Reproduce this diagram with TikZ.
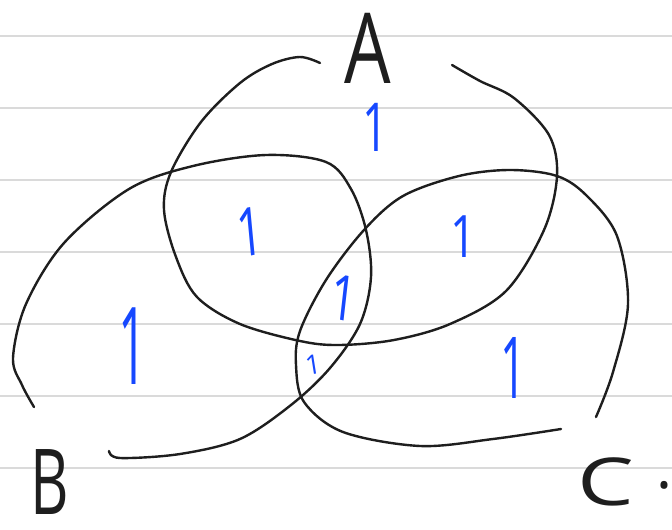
\documentclass[tikz,border=0pt]{standalone}
\usepackage{fontspec}
\setmainfont{Open Sans}
\definecolor{rule}{RGB}{218,218,218}
\definecolor{ink}{RGB}{30,30,30}
\definecolor{pen}{RGB}{22,72,255}
\begin{document}
\begin{tikzpicture}[x=1pt,y=-1pt,
  ruling/.style={draw=rule,line width=2pt},
  loop/.style={draw=ink,line width=2.4pt,line cap=round,line join=round},
  lett/.style={text=ink,inner sep=0pt,font=\fontsize{#1}{#1}\selectfont},
  tally/.style={text=pen,inner sep=0pt,font=\fontsize{#1}{#1}\selectfont}]
\useasboundingbox[fill=white] (0,0) rectangle (672,530);
% ruled paper
\foreach \yy in {36,108,180,252,324,396,468}
  \draw[ruling] (0,\yy) -- (672,\yy);
% set A
\draw[loop] plot[smooth,tension=0.55] coordinates {(320,63) (300,57) (272,64) (240,83) (201,122) (171,172) (164,210) (176,257) (197,297) (240,324) (300,341) (339,345) (394,340) (450,324) (506,291) (544,230) (557,176) (549,135) (514,98) (480,81) (452,65)};
% set B
\draw[loop] plot[smooth,tension=0.55] coordinates {(34,407) (22,385) (13,358) (26,304) (64,243) (129,189) (193,166) (266,155) (326,162) (351,189) (366,230) (371,277) (360,324) (330,368) (291,405) (240,439) (180,454) (120,458) (109,451)};
% set C
\draw[loop] plot[smooth,tension=0.55] coordinates {(596,417) (613,372) (628,304) (617,236) (587,196) (557,176) (510,170) (459,176) (403,196) (364,230) (326,280) (300,331) (296,365) (304,402) (343,432) (420,446) (493,439) (561,429)};
% labels
\node[lett=70,xscale=1.05,yscale=1.4] (la) at (368,48) {A};
\node[lett=70,xscale=0.85,yscale=1.3] (lb) at (50,482) {B};
\node[lett=60,xscale=1.5,yscale=1.1] (lc) at (606,482) {C};
\node[lett=60] (ld) at (664,485) {.};
% counts
\node[tally=45,yscale=1.5] (n1) at (375,127) {1};
\node[tally=45,yscale=1.5,rotate=8] (n2) at (250,232) {1};
\node[tally=45,yscale=1.3] (n3) at (463,237) {1};
\node[tally=45,yscale=1.4,rotate=-9] (n4) at (344,298) {1};
\node[tally=50,yscale=2.15] (n5) at (133,346) {1};
\node[tally=27,rotate=9] (n6) at (313,365) {1};
\node[tally=45,yscale=1.9] (n7) at (513,368) {1};
\end{tikzpicture}
\end{document}
